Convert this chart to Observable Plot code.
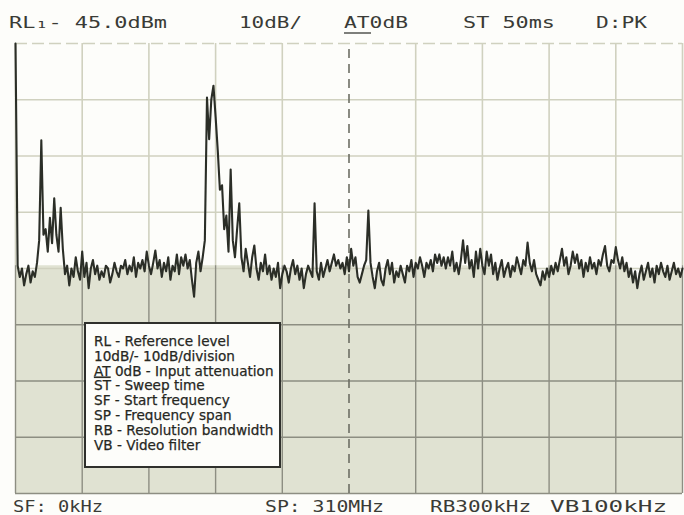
<!DOCTYPE html>
<html>
<head>
<meta charset="utf-8">
<script src="https://cdn.jsdelivr.net/npm/d3@7"></script>
<script src="https://cdn.jsdelivr.net/npm/@observablehq/plot@0.6"></script>
<style>
  html, body { margin: 0; padding: 0; background: #fdfdfa; }
  #chart svg { display: block; }
</style>
</head>
<body>
<div id="chart"></div>
<script>
// ---- Instrument settings ----
const refLevelDbm = -45;      // RL
const dbPerDiv = 10;          // 10dB/
const divisionsY = 8;
const startMHz = 0;           // SF
const spanMHz = 310;          // SP
const divisionsX = 10;
const freqStepMHz = 1;        // one trace sample per MHz

// ---- Header / footer / legend text ----
const headerLabels = ["RL\u2081- 45.0dBm", "10dB/", "AT0dB", "ST 50ms", "D:PK"];
const footerLabels = ["SF: 0kHz", "SP: 310MHz", "RB300kHz", "VB100kHz"];
const legendLines = [
  ["RL", " - Reference level"],
  ["10dB/", "- 10dB/division"],
  ["AT", " 0dB - Input attenuation"],
  ["ST", " - Sweep time"],
  ["SF", " - Start frequency"],
  ["SP", " - Frequency span"],
  ["RB", " - Resolution bandwidth"],
  ["VB", " - Video filter"]
];

// ---- Trace levels in dBm, 0..310 MHz, 1 MHz apart ----
const levels = [
  -45.0, -84.5, -86.5, -85.0, -88.0, -86.0, -84.5, -87.5, -85.5, -86.5,   // 0-9
  -84.0, -80.0, -62.2, -79.0, -78.0, -82.0, -76.0, -80.5, -72.5, -79.0,   // 10-19
  -82.0, -74.2, -81.5, -86.0, -84.5, -88.0, -85.0, -86.5, -83.0, -85.5,   // 20-29
  -87.0, -82.0, -86.5, -84.0, -88.5, -85.0, -83.5, -86.0, -84.5, -87.0,   // 30-39
  -85.5, -86.5, -84.5, -85.0, -87.5, -86.0, -84.0, -85.5, -86.5, -84.5,   // 40-49
  -85.0, -83.5, -86.0, -84.5, -85.5, -83.0, -86.5, -84.0, -85.0, -83.5,   // 50-59
  -85.5, -82.0, -84.5, -86.0, -84.0, -81.8, -85.0, -83.5, -86.5, -84.0,   // 60-69
  -85.5, -83.0, -87.0, -84.5, -85.5, -82.5, -86.0, -83.0, -84.5, -82.5,   // 70-79
  -85.0, -83.5, -87.0, -90.0, -84.0, -82.0, -85.5, -83.0, -80.0, -54.6,   // 80-89
  -62.0, -55.0, -52.5, -58.0, -64.0, -71.0, -70.2, -78.0, -75.6, -82.0,   // 90-99
  -67.4, -80.0, -83.0, -78.0, -73.4, -83.0, -85.5, -81.5, -84.0, -86.5,   // 100-109
  -83.0, -80.9, -85.0, -87.0, -84.0, -85.5, -82.5, -86.0, -84.5, -87.0,   // 110-119
  -85.0, -86.5, -84.0, -88.5, -86.0, -84.5, -85.5, -87.5, -85.0, -83.5,   // 120-129
  -86.0, -84.5, -87.0, -85.0, -88.5, -86.0, -84.5, -85.5, -86.5, -73.4,   // 130-139
  -85.5, -87.0, -84.0, -86.5, -85.0, -83.5, -85.5, -84.0, -82.5, -84.5,   // 140-149
  -83.5, -85.0, -84.0, -86.0, -83.0, -85.5, -81.5, -84.5, -83.0, -86.5,   // 150-159
  -87.5, -86.0, -84.5, -83.5, -74.7, -84.0, -86.5, -88.5, -85.5, -84.0,   // 160-169
  -87.0, -88.0, -85.0, -83.5, -86.0, -84.0, -87.5, -85.5, -86.5, -84.5,   // 170-179
  -86.0, -87.5, -84.5, -85.5, -83.5, -86.5, -84.0, -85.0, -83.0, -84.5,   // 180-189
  -86.5, -84.0, -85.0, -83.5, -85.5, -82.5, -84.0, -82.5, -84.5, -83.0,   // 190-199
  -85.0, -83.0, -84.5, -82.0, -85.5, -84.0, -86.0, -83.5, -80.0, -84.0,   // 200-209
  -81.0, -85.0, -83.5, -86.5, -82.0, -85.0, -81.5, -84.5, -86.0, -82.0,   // 210-219
  -84.5, -82.5, -86.0, -84.0, -87.0, -85.0, -83.5, -86.5, -85.0, -84.0,   // 220-229
  -86.5, -84.5, -85.5, -83.0, -84.5, -86.0, -83.5, -84.5, -80.4, -84.0,   // 230-239
  -85.5, -83.5, -86.0, -87.0, -88.0, -85.5, -87.0, -85.0, -86.5, -84.5,   // 240-249
  -86.0, -84.0, -85.5, -83.5, -81.5, -84.5, -83.0, -86.0, -84.5, -82.0,   // 250-259
  -84.0, -82.5, -85.0, -83.5, -86.5, -84.0, -85.5, -83.0, -85.0, -84.0,   // 260-269
  -86.0, -83.5, -84.5, -82.5, -81.0, -84.5, -85.5, -83.5, -84.0, -81.2,   // 270-279
  -83.5, -85.0, -83.0, -85.5, -84.0, -86.5, -85.0, -87.5, -85.5, -88.5,   // 280-289
  -86.0, -84.5, -87.0, -85.5, -84.0, -86.5, -85.0, -87.5, -84.5, -86.0,   // 290-299
  -84.0, -85.5, -86.5, -84.5, -87.0, -85.5, -84.0, -86.0, -85.0, -86.5,   // 300-309
  -85.0                                                                   // 310
];

const trace = levels.map((level, i) => ({ f: startMHz + i * freqStepMHz, level }));
const bottomDbm = refLevelDbm - dbPerDiv * divisionsY;
const xGrid = d3.range(divisionsX + 1).map(i => startMHz + i * spanMHz / divisionsX);
const yGrid = d3.range(divisionsY + 1).map(i => bottomDbm + i * dbPerDiv);
const shadeTop = -84.5;

const paper = "#fdfdfa";
const shade = "#e0e2d2";
const gridLight = "#d0d1bf";
const gridDark = "#8d8e82";
const ink = "#2b2e27";

const chart = Plot.plot({
  width: 684,
  height: 515,
  marginLeft: 15,
  marginRight: 2,
  marginTop: 43,
  marginBottom: 22,
  x: { domain: [startMHz, startMHz + spanMHz], axis: null },
  y: { domain: [bottomDbm, refLevelDbm], axis: null, clamp: true },
  style: { background: paper, overflow: "visible" },
  marks: [
    Plot.areaY(trace, { x: "f", y1: bottomDbm, y2: d => Math.min(d.level, shadeTop), fill: shade }),
    // grid above the shaded floor
    Plot.ruleX(xGrid.filter(v => v !== 155), { y1: shadeTop, y2: refLevelDbm, stroke: gridLight, strokeWidth: 1.6 }),
    Plot.ruleY(yGrid.filter(v => v >= -85 && v < refLevelDbm), { stroke: gridLight, strokeWidth: 1.6 }),
    Plot.ruleY([refLevelDbm], { stroke: gridLight, strokeWidth: 1.6, strokeDasharray: "12,5" }),
    // grid inside the shaded floor
    Plot.ruleX(xGrid.filter(v => v !== 155), { y1: bottomDbm, y2: shadeTop, stroke: gridDark, strokeWidth: 1.4 }),
    Plot.ruleY(yGrid.filter(v => v < -85), { stroke: gridDark, strokeWidth: 1.4 }),
    // dashed centre line
    Plot.ruleX([startMHz + spanMHz / 2], { y1: bottomDbm, y2: refLevelDbm, stroke: "#6d6e64", strokeWidth: 1.6, strokeDasharray: "9,6" }),
    // trace
    Plot.lineY(trace, { x: "f", y: "level", stroke: ink, strokeWidth: 2.1, strokeLinejoin: "round" })
  ]
});

document.getElementById("chart").appendChild(chart);

// ---- text annotations ----
const svg = d3.select(chart);
const mono = "'DejaVu Sans Mono', 'Liberation Mono', monospace";
const headerPos = [[9, 158], [239, 63], [344, 64], [463, 92], [596, 51]];
headerLabels.forEach((t, i) => {
  svg.append("text")
    .attr("x", headerPos[i][0]).attr("y", 28)
    .attr("text-anchor", "start")
    .attr("textLength", headerPos[i][1]).attr("lengthAdjust", "spacingAndGlyphs")
    .attr("font-family", mono).attr("font-size", 16).attr("fill", "#3a3b36")
    .text(t);
});
// underline under AT in the header
svg.append("line").attr("x1", 344).attr("x2", 371).attr("y1", 33).attr("y2", 33)
  .attr("stroke", "#3a3b36").attr("stroke-width", 1.3);

const footerPos = [[13, 90], [265, 119], [430, 101], [550, 117]];
footerLabels.forEach((t, i) => {
  svg.append("text")
    .attr("x", footerPos[i][0]).attr("y", 512)
    .attr("text-anchor", "start")
    .attr("textLength", footerPos[i][1]).attr("lengthAdjust", "spacingAndGlyphs")
    .attr("font-family", mono).attr("font-size", 16).attr("fill", "#3a3b36")
    .text(t);
});

// ---- legend box ----
const lg = svg.append("g");
lg.append("rect").attr("x", 85).attr("y", 323).attr("width", 195).attr("height", 144)
  .attr("fill", "#fdfdfa").attr("stroke", "#2f302c").attr("stroke-width", 2);
const sans = "'DejaVu Sans', 'Noto Sans', sans-serif";
legendLines.forEach((parts, i) => {
  const t = lg.append("text")
    .attr("x", 94).attr("y", 346 + i * 14.8)
    .attr("text-anchor", "start")
    .attr("font-family", sans).attr("font-size", 13.6)
    .attr("fill", "#26271f").attr("stroke", "#26271f").attr("stroke-width", 0.25);
  t.append("tspan").text(parts[0]).attr("text-decoration", i === 2 ? "underline" : null);
  t.append("tspan").text(parts[1]);
});
</script>
</body>
</html>
